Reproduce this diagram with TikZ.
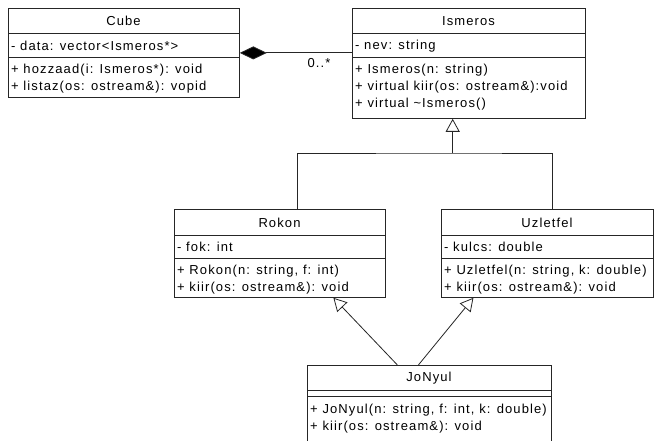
\documentclass[tikz,border=0pt]{standalone}
\usepackage{fontspec}
\setmainfont{Liberation Sans}[LetterSpace=8.5]
\usetikzlibrary{arrows.meta}
\begin{document}
\begin{tikzpicture}[x=1pt,y=-1pt,
  umlbox/.style={draw=black!85, line width=0.8pt, fill=white, inner sep=0pt, anchor=north west},
  ttl/.style={inner sep=0pt, anchor=center, font=\fontsize{13}{15}\selectfont},
  mem/.style={inner sep=0pt, anchor=west, font=\fontsize{13}{15}\selectfont},
  sep/.style={draw=black!85, line width=0.8pt},
  conn/.style={draw=black!85, line width=0.8pt},
  gen/.style={conn, -{Triangle[open, length=13pt, width=14pt, fill=white]}},
  comp/.style={conn, {Diamond[length=27pt, width=13pt, fill=black]}-}
]
\clip (0,0) rectangle (656,441);
\fill[white] (0,0) rectangle (656,441);

% Cube
\node[umlbox, minimum width=231pt, minimum height=89pt] (cube) at (8,8) {};
\draw[sep] (8,33) -- (239,33);
\draw[sep] (8,57) -- (239,57);
\node[ttl] (cubeT) at (123.5,21) {Cube};
\node[mem] (cubeA) at (11,46) {- data: vector<Ismeros*>};
\node[mem] (cubeM1) at (11,70) {+ hozzaad(i: Ismeros*): void};
\node[mem] (cubeM2) at (11,87) {+ listaz(os: ostream\&): vopid};

% Ismeros
\node[umlbox, minimum width=233pt, minimum height=110pt] (ism) at (352,8) {};
\draw[sep] (352,33) -- (585,33);
\draw[sep] (352,57) -- (585,57);
\node[ttl] (ismT) at (468.5,21) {Ismeros};
\node[mem] (ismA) at (355,46) {- nev: string};
\node[mem] (ismM1) at (355,70.5) {+ Ismeros(n: string)};
\node[mem] (ismM2) at (355,87.5) {+ virtual kiir(os: ostream\&):void};
\node[mem] (ismM3) at (355,104.5) {+ virtual \textasciitilde Ismeros()};

% Rokon
\node[umlbox, minimum width=211pt, minimum height=88pt] (rokon) at (174,209) {};
\draw[sep] (174,235) -- (385,235);
\draw[sep] (174,258) -- (385,258);
\node[ttl] (rokonT) at (279.5,223) {Rokon};
\node[mem] (rokonA) at (177,247) {- fok: int};
\node[mem] (rokonM1) at (177,271) {+ Rokon(n: string, f: int)};
\node[mem] (rokonM2) at (177,288) {+ kiir(os: ostream\&): void};

% Uzletfel
\node[umlbox, minimum width=212pt, minimum height=88pt] (uzlet) at (441,209) {};
\draw[sep] (441,235) -- (653,235);
\draw[sep] (441,258) -- (653,258);
\node[ttl] (uzletT) at (547,223) {Uzletfel};
\node[mem] (uzletA) at (444,247) {- kulcs: double};
\node[mem] (uzletM1) at (444,271) {+ Uzletfel(n: string, k: double)};
\node[mem] (uzletM2) at (444,288) {+ kiir(os: ostream\&): void};

% JoNyul
\node[umlbox, minimum width=244pt, minimum height=80pt] (jony) at (307,365) {};
\draw[sep] (307,390) -- (551,390);
\draw[sep] (307,396) -- (551,396);
\node[ttl] (jonyT) at (429,378) {JoNyul};
\node[mem] (jonyM1) at (310,410) {+ JoNyul(n: string, f: int, k: double)};
\node[mem] (jonyM2) at (310,427) {+ kiir(os: ostream\&): void};

% Composition
\draw[comp] (cube.east) -- (cube.east -| ism.west);
\node[ttl] (mult) at (319,63) {0..*};

% Generalisation Rokon/Uzletfel -> Ismeros
\coordinate (junc) at (452.7,153);
\draw[conn] ([xshift=17.5pt]rokon.north) |- (junc) -| ([xshift=5pt]uzlet.north);
\draw[gen] (junc) -- (junc |- ism.south);

% Generalisation JoNyul -> Rokon, Uzletfel
\draw[gen] ([xshift=-32pt]jony.north) -- ([xshift=53.5pt]rokon.south);
\draw[gen] ([xshift=-11pt]jony.north) -- ([xshift=-74pt]uzlet.south);
\end{tikzpicture}
\end{document}
